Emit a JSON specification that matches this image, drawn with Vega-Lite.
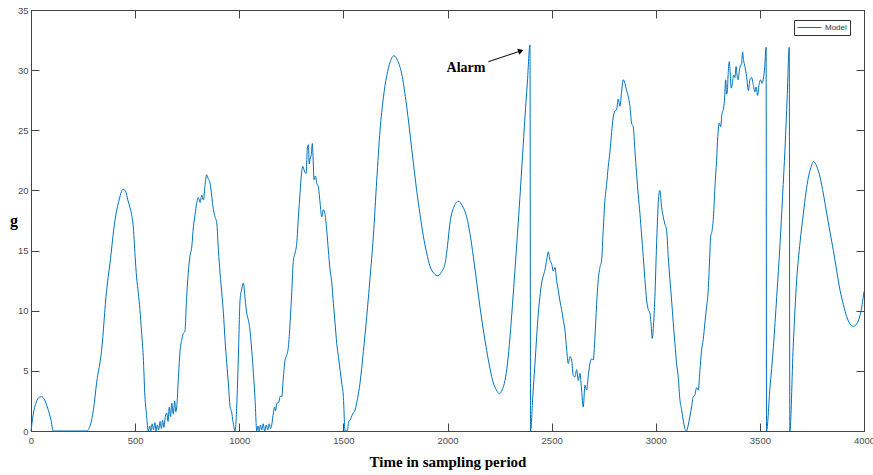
{
  "$schema": "https://vega.github.io/schema/vega-lite/v6.json",
  "width": 833,
  "height": 421,
  "autosize": {"type": "none"},
  "padding": {"left": 31, "top": 10, "right": 9, "bottom": 44},
  "background": "white",
  "config": {
    "view": {"stroke": "#444444", "strokeWidth": 1},
    "axis": {
      "grid": false,
      "domainColor": "#444444",
      "tickColor": "#444444",
      "labelColor": "#4d4d4d",
      "labelFont": "Liberation Sans",
      "labelFontSize": 9.5,
      "titleFont": "Liberation Serif",
      "titleFontWeight": "bold",
      "titleFontSize": 15,
      "titleColor": "#000000"
    }
  },
  "datasets": {
    "series": [
      {"t":0,"v":0},{"t":10,"v":1.3},{"t":25,"v":2.4},{"t":40,"v":2.8},{"t":51,"v":2.85},{"t":65,"v":2.6},{"t":80,"v":1.9},{"t":95,"v":1.0},{"t":107,"v":0},
      {"t":267,"v":0},{"t":285,"v":0.5},{"t":300,"v":1.8},{"t":315,"v":4.0},{"t":339,"v":6.7},{"t":363,"v":11.7},{"t":379,"v":13.9},{"t":403,"v":17.5},{"t":420,"v":19.0},{"t":443,"v":20.1},{"t":455,"v":19.9},{"t":465,"v":19.2},{"t":475,"v":18.6},{"t":483,"v":18.0},{"t":490,"v":17.2},{"t":500,"v":14.5},{"t":507,"v":12.8},{"t":515,"v":11.5},{"t":523,"v":10.1},{"t":531,"v":8.2},{"t":539,"v":6.2},{"t":547,"v":2.9},{"t":555,"v":1.3},{"t":563,"v":0},
      {"t":570,"v":0.4},{"t":575,"v":0},{"t":582,"v":0.6},{"t":588,"v":0.1},{"t":595,"v":0.7},{"t":600,"v":0},{"t":607,"v":0.5},{"t":613,"v":0.1},{"t":620,"v":0.8},{"t":626,"v":0.2},{"t":632,"v":0.9},{"t":638,"v":0.3},{"t":645,"v":1.2},{"t":652,"v":1.5},{"t":658,"v":0.8},{"t":664,"v":2.0},{"t":670,"v":1.2},{"t":676,"v":2.3},{"t":683,"v":1.4},{"t":690,"v":2.5},{"t":695,"v":1.6},{"t":700,"v":2.0},
      {"t":708,"v":4.5},{"t":716,"v":6.7},{"t":724,"v":7.6},{"t":731,"v":8.1},{"t":739,"v":8.3},{"t":747,"v":11.0},{"t":755,"v":13.1},{"t":763,"v":14.5},{"t":772,"v":15.3},{"t":780,"v":17.0},{"t":788,"v":18.0},{"t":795,"v":18.9},{"t":803,"v":19.4},{"t":812,"v":19.0},{"t":820,"v":19.6},{"t":828,"v":19.2},{"t":836,"v":20.5},{"t":843,"v":21.3},{"t":850,"v":21.0},{"t":860,"v":20.6},{"t":868,"v":19.5},{"t":876,"v":18.4},{"t":884,"v":17.8},{"t":892,"v":17.3},{"t":900,"v":15.0},{"t":908,"v":13.1},{"t":916,"v":11.5},{"t":924,"v":9.8},{"t":932,"v":7.5},{"t":940,"v":5.6},{"t":948,"v":3.9},{"t":956,"v":2.0},{"t":963,"v":1.6},{"t":970,"v":0.8},{"t":980,"v":0},
      {"t":990,"v":3.0},{"t":997,"v":7.0},{"t":1004,"v":10.9},{"t":1012,"v":11.8},{"t":1020,"v":12.3},{"t":1028,"v":11.0},{"t":1036,"v":9.8},{"t":1044,"v":9.2},{"t":1050,"v":8.6},{"t":1060,"v":6.7},{"t":1068,"v":4.8},{"t":1076,"v":2.6},{"t":1084,"v":0},
      {"t":1090,"v":0.4},{"t":1096,"v":0},{"t":1102,"v":0.5},{"t":1108,"v":0.1},{"t":1115,"v":0.6},{"t":1122,"v":0},{"t":1130,"v":0.5},{"t":1137,"v":0.1},{"t":1144,"v":0.6},{"t":1150,"v":0.2},{"t":1156,"v":0.5},{"t":1164,"v":1.5},{"t":1170,"v":2.0},{"t":1175,"v":1.7},{"t":1180,"v":2.3},{"t":1190,"v":2.4},{"t":1197,"v":2.9},{"t":1204,"v":2.85},
      {"t":1212,"v":4.5},{"t":1220,"v":5.9},{"t":1228,"v":6.3},{"t":1236,"v":7.0},{"t":1244,"v":8.95},{"t":1252,"v":11.5},{"t":1260,"v":14.2},{"t":1268,"v":14.8},{"t":1276,"v":15.6},{"t":1284,"v":17.8},{"t":1292,"v":19.8},{"t":1298,"v":21.2},{"t":1305,"v":22.0},{"t":1313,"v":21.6},{"t":1321,"v":21.4},{"t":1327,"v":23.5},{"t":1332,"v":23.8},{"t":1336,"v":22.2},{"t":1340,"v":22.6},{"t":1346,"v":23.0},{"t":1351,"v":23.9},{"t":1355,"v":22.5},{"t":1359,"v":20.9},{"t":1366,"v":21.2},{"t":1372,"v":20.6},{"t":1380,"v":20.3},{"t":1388,"v":19.0},{"t":1396,"v":17.8},{"t":1404,"v":18.4},{"t":1412,"v":18.0},{"t":1420,"v":16.7},{"t":1428,"v":15.0},{"t":1436,"v":13.4},{"t":1444,"v":12.4},{"t":1452,"v":10.6},{"t":1460,"v":9.0},{"t":1468,"v":7.3},{"t":1476,"v":6.2},{"t":1484,"v":5.1},{"t":1492,"v":4.0},{"t":1500,"v":2.85},{"t":1508,"v":0},{"t":1519,"v":0},{"t":1526,"v":0.8},{"t":1532,"v":0.9},{"t":1544,"v":1.4},{"t":1556,"v":1.75},
      {"t":1568,"v":2.7},{"t":1580,"v":4.0},{"t":1596,"v":6.6},{"t":1612,"v":9.5},{"t":1628,"v":12.7},{"t":1644,"v":16.2},{"t":1660,"v":20.8},{"t":1676,"v":25.0},{"t":1692,"v":27.7},{"t":1708,"v":29.5},{"t":1725,"v":30.7},{"t":1743,"v":31.2},{"t":1760,"v":30.8},{"t":1780,"v":29.7},{"t":1800,"v":27.5},{"t":1820,"v":24.7},{"t":1836,"v":22.3},{"t":1852,"v":20.0},{"t":1868,"v":18.0},{"t":1884,"v":16.2},{"t":1900,"v":14.8},{"t":1916,"v":13.7},{"t":1935,"v":13.1},{"t":1954,"v":12.9},{"t":1970,"v":13.2},{"t":1988,"v":13.9},{"t":2000,"v":15.4},{"t":2012,"v":17.3},{"t":2030,"v":18.6},{"t":2052,"v":19.1},{"t":2072,"v":18.7},{"t":2092,"v":17.8},{"t":2108,"v":16.4},{"t":2124,"v":14.5},{"t":2140,"v":12.4},{"t":2156,"v":10.3},{"t":2172,"v":8.4},{"t":2188,"v":6.7},{"t":2204,"v":5.2},{"t":2220,"v":4.0},{"t":2235,"v":3.4},{"t":2249,"v":3.1},{"t":2262,"v":3.4},{"t":2276,"v":4.2},{"t":2288,"v":5.6},{"t":2300,"v":7.8},{"t":2312,"v":10.5},{"t":2324,"v":13.4},{"t":2336,"v":16.4},{"t":2348,"v":19.5},{"t":2360,"v":22.8},{"t":2372,"v":26.1},{"t":2384,"v":29.1},{"t":2396,"v":32.1},{"t":2399,"v":0},
      {"t":2410,"v":3.0},{"t":2420,"v":5.6},{"t":2428,"v":7.8},{"t":2436,"v":9.8},{"t":2444,"v":11.2},{"t":2452,"v":12.3},{"t":2460,"v":12.9},{"t":2468,"v":13.4},{"t":2476,"v":14.2},{"t":2484,"v":14.9},{"t":2492,"v":14.2},{"t":2500,"v":13.9},{"t":2508,"v":13.3},{"t":2516,"v":13.6},{"t":2524,"v":12.5},{"t":2532,"v":11.7},{"t":2540,"v":10.8},{"t":2548,"v":10.1},{"t":2556,"v":9.2},{"t":2564,"v":8.4},{"t":2572,"v":6.8},{"t":2580,"v":5.6},{"t":2588,"v":6.2},{"t":2596,"v":5.9},{"t":2604,"v":4.6},{"t":2612,"v":4.5},{"t":2620,"v":5.1},{"t":2628,"v":4.2},{"t":2636,"v":4.8},{"t":2644,"v":3.4},{"t":2652,"v":2.0},{"t":2660,"v":3.8},{"t":2668,"v":3.4},{"t":2676,"v":4.6},{"t":2684,"v":5.6},{"t":2692,"v":6.0},{"t":2700,"v":5.9},
      {"t":2708,"v":7.8},{"t":2716,"v":10.5},{"t":2724,"v":12.6},{"t":2732,"v":13.6},{"t":2740,"v":14.2},{"t":2748,"v":16.8},{"t":2756,"v":19.2},{"t":2764,"v":20.5},{"t":2772,"v":22.0},{"t":2780,"v":23.2},{"t":2788,"v":24.8},{"t":2796,"v":26.1},{"t":2804,"v":26.6},{"t":2812,"v":26.7},{"t":2820,"v":27.6},{"t":2828,"v":27.0},{"t":2836,"v":28.2},{"t":2844,"v":29.2},{"t":2852,"v":28.9},{"t":2860,"v":28.3},{"t":2868,"v":27.8},{"t":2876,"v":27.0},{"t":2884,"v":25.6},{"t":2892,"v":25.3},{"t":2900,"v":23.3},{"t":2908,"v":21.4},{"t":2916,"v":19.6},{"t":2924,"v":18.1},{"t":2932,"v":16.3},{"t":2940,"v":14.5},{"t":2948,"v":12.6},{"t":2956,"v":10.9},{"t":2964,"v":10.1},{"t":2972,"v":9.8},{"t":2978,"v":8.8},{"t":2983,"v":7.7},{"t":2990,"v":9.0},{"t":2996,"v":11.2},{"t":3003,"v":15.0},{"t":3009,"v":17.8},{"t":3014,"v":19.5},{"t":3020,"v":20.0},{"t":3028,"v":18.6},{"t":3036,"v":17.8},{"t":3044,"v":17.2},{"t":3052,"v":16.7},{"t":3060,"v":14.5},{"t":3068,"v":12.6},{"t":3076,"v":10.9},{"t":3084,"v":9.0},{"t":3092,"v":7.3},{"t":3100,"v":5.6},{"t":3108,"v":4.5},{"t":3116,"v":2.6},{"t":3124,"v":1.8},{"t":3132,"v":0.9},{"t":3140,"v":0.2},{"t":3148,"v":0},
      {"t":3156,"v":0.5},{"t":3164,"v":1.2},{"t":3172,"v":2.0},{"t":3180,"v":2.85},{"t":3188,"v":3.0},{"t":3196,"v":3.6},{"t":3204,"v":3.4},{"t":3212,"v":5.0},{"t":3220,"v":6.7},{"t":3228,"v":7.6},{"t":3236,"v":9.0},{"t":3244,"v":10.3},{"t":3252,"v":11.7},{"t":3258,"v":14.0},{"t":3264,"v":16.2},{"t":3270,"v":16.6},{"t":3277,"v":17.8},{"t":3284,"v":20.2},{"t":3292,"v":22.5},{"t":3298,"v":24.5},{"t":3305,"v":25.6},{"t":3312,"v":25.3},{"t":3318,"v":26.4},{"t":3324,"v":26.7},{"t":3330,"v":27.5},{"t":3336,"v":29.2},{"t":3340,"v":28.0},{"t":3344,"v":28.3},{"t":3348,"v":29.8},{"t":3353,"v":30.7},{"t":3358,"v":29.6},{"t":3362,"v":28.5},{"t":3368,"v":28.9},{"t":3374,"v":29.6},{"t":3380,"v":29.4},{"t":3386,"v":30.3},{"t":3391,"v":29.5},{"t":3396,"v":29.2},{"t":3402,"v":30.0},{"t":3407,"v":30.4},{"t":3412,"v":30.5},{"t":3417,"v":31.5},{"t":3422,"v":30.8},{"t":3428,"v":30.3},{"t":3436,"v":29.5},{"t":3445,"v":28.3},{"t":3452,"v":29.2},{"t":3460,"v":29.4},{"t":3468,"v":28.8},{"t":3476,"v":28.2},{"t":3482,"v":28.6},{"t":3489,"v":27.9},{"t":3496,"v":28.8},{"t":3504,"v":29.2},{"t":3510,"v":28.9},{"t":3516,"v":29.2},{"t":3522,"v":30.0},{"t":3530,"v":31.9},{"t":3532,"v":0},
      {"t":3548,"v":3.5},{"t":3565,"v":7.0},{"t":3581,"v":11.2},{"t":3597,"v":15.6},{"t":3609,"v":19.5},{"t":3621,"v":23.6},{"t":3631,"v":27.7},{"t":3641,"v":31.9},{"t":3644,"v":0},
      {"t":3660,"v":7.0},{"t":3677,"v":12.6},{"t":3693,"v":15.7},{"t":3709,"v":18.1},{"t":3721,"v":19.8},{"t":3733,"v":21.1},{"t":3745,"v":21.9},{"t":3757,"v":22.4},{"t":3773,"v":22.0},{"t":3789,"v":21.1},{"t":3805,"v":19.7},{"t":3821,"v":18.1},{"t":3837,"v":16.5},{"t":3853,"v":15.0},{"t":3869,"v":13.3},{"t":3885,"v":11.7},{"t":3901,"v":10.5},{"t":3917,"v":9.5},{"t":3933,"v":8.9},{"t":3949,"v":8.7},{"t":3965,"v":8.9},{"t":3981,"v":9.6},{"t":3991,"v":10.5},{"t":4000,"v":11.6}
    ]
  },
  "resolve": {"axis": {"x": "independent", "y": "independent"}},
  "layer": [
    {
      "data": {"name": "series"},
      "transform": [{"calculate": "'Model'", "as": "series"}],
      "mark": {"type": "line", "strokeWidth": 1, "interpolate": "monotone"},
      "encoding": {
        "x": {"field": "t", "type": "quantitative", "scale": {"domain": [0, 4000], "nice": false},
          "axis": {"orient": "bottom", "values": [0,500,1000,1500,2000,2500,3000,3500,4000], "format": "d", "tickSize": -8, "labelPadding": 12, "title": "Time in sampling period", "titlePadding": 10, "labelFlush": false}},
        "y": {"field": "v", "type": "quantitative", "scale": {"domain": [0, 35], "nice": false},
          "axis": {"orient": "left", "values": [0,5,10,15,20,25,30,35], "tickSize": -8, "labelPadding": 11, "title": "g", "titleAngle": 0, "titleAlign": "center", "titleBaseline": "middle", "titlePadding": 4, "titleFontSize": 16}},
        "color": {"field": "series", "type": "nominal", "scale": {"domain": ["Model"], "range": ["#0072BD"]},
          "legend": {"title": null, "orient": "none", "legendX": 763, "legendY": 10, "symbolType": "M-3,0H3", "symbolSize": 64, "symbolStrokeWidth": 1, "symbolOffset": 8, "labelOffset": 11, "labelFont": "Liberation Sans", "labelFontSize": 8, "labelColor": "#333333", "strokeColor": "#333333", "fillColor": "white", "padding": 3}}
      }
    },
    {
      "data": {"name": "series"},
      "mark": {"type": "point", "opacity": 0},
      "encoding": {
        "x": {"field": "t", "type": "quantitative", "axis": {"orient": "top", "values": [0,500,1000,1500,2000,2500,3000,3500,4000], "tickSize": -8, "labels": false, "title": null}},
        "y": {"field": "v", "type": "quantitative", "axis": {"orient": "right", "values": [0,5,10,15,20,25,30,35], "tickSize": -8, "labels": false, "title": null}}
      }
    },
    {
      "data": {"values": [{"t": 2196, "v": 30.7, "t2": 2352, "v2": 31.6}]},
      "mark": {"type": "rule", "color": "#000000", "strokeWidth": 1},
      "encoding": {
        "x": {"field": "t", "type": "quantitative", "axis": null},
        "y": {"field": "v", "type": "quantitative", "axis": null},
        "x2": {"field": "t2"},
        "y2": {"field": "v2"}
      }
    },
    {
      "data": {"values": [{"t": 2352, "v": 31.6}]},
      "mark": {"type": "point", "shape": "triangle-right", "filled": true, "color": "#000000", "size": 40, "angle": -20, "opacity": 1},
      "encoding": {
        "x": {"field": "t", "type": "quantitative", "axis": null},
        "y": {"field": "v", "type": "quantitative", "axis": null}
      }
    },
    {
      "data": {"values": [{"t": 2089, "v": 30.2, "label": "Alarm"}]},
      "mark": {"type": "text", "font": "Liberation Serif", "fontWeight": "bold", "fontSize": 14, "color": "#000000", "align": "center", "baseline": "middle"},
      "encoding": {
        "x": {"field": "t", "type": "quantitative", "axis": null},
        "y": {"field": "v", "type": "quantitative", "axis": null},
        "text": {"field": "label"}
      }
    }
  ]
}
